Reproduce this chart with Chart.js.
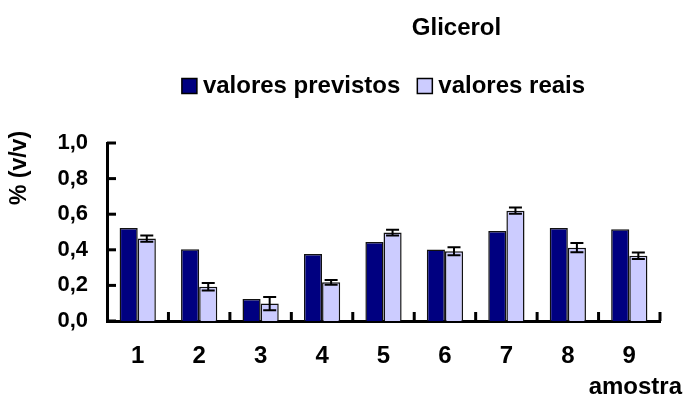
<!DOCTYPE html>
<html>
<head>
<meta charset="utf-8">
<script src="https://cdn.jsdelivr.net/npm/chart.js@4.4.1/dist/chart.umd.min.js"></script>
<style>
  html, body { margin: 0; padding: 0; background: #fff; }
</style>
</head>
<body>
<canvas id="grafica" width="685" height="406"></canvas>
<script>
// dados
const amostras = ['1', '2', '3', '4', '5', '6', '7', '8', '9'];
const previstos = [0.522, 0.403, 0.124, 0.377, 0.444, 0.401, 0.506, 0.522, 0.515];
const reais = [0.463, 0.193, 0.098, 0.217, 0.497, 0.392, 0.620, 0.412, 0.367];
const errosReais = [0.018, 0.021, 0.037, 0.014, 0.016, 0.022, 0.018, 0.026, 0.018];
const ticksY = [0, 0.2, 0.4, 0.6, 0.8, 1.0];

const titulo = 'Glicerol';
const tituloY = '% (v/v)';
const tituloX = 'amostra';

const fonte = "'Liberation Sans', Arial, sans-serif";

const extras = {
  id: 'extras',
  afterDatasetsDraw(chart) {
    const c = chart.ctx;
    const area = chart.chartArea;
    const ys = chart.scales.y;
    const xs = chart.scales.x;
    c.save();
    c.strokeStyle = '#000';
    c.lineWidth = 2;

    // barras de erro (valores reais)
    const meta = chart.getDatasetMeta(1);
    meta.data.forEach((bar, i) => {
      const yTop = ys.getPixelForValue(reais[i] + errosReais[i]);
      const yBot = ys.getPixelForValue(reais[i] - errosReais[i]);
      c.beginPath();
      c.moveTo(bar.x, yTop); c.lineTo(bar.x, yBot);
      c.moveTo(bar.x - 6.5, yTop); c.lineTo(bar.x + 6.5, yTop);
      c.moveTo(bar.x - 6.5, yBot); c.lineTo(bar.x + 6.5, yBot);
      c.stroke();
    });

    // marcas internas nos eixos
    c.lineWidth = 3;
    ticksY.forEach(v => {
      const y = ys.getPixelForValue(v);
      c.beginPath();
      c.moveTo(area.left, y); c.lineTo(area.left + 9, y);
      c.stroke();
    });
    for (let i = 0; i < amostras.length; i++) {
      const x = xs.getPixelForValue(i + 0.5);
      c.beginPath();
      c.moveTo(x, area.bottom); c.lineTo(x, area.bottom - 9);
      c.stroke();
    }

    // textos
    c.fillStyle = '#000';
    c.font = 'bold 24px ' + fonte;
    c.textBaseline = 'middle';
    c.textAlign = 'center';
    c.fillText(titulo, area.left + area.width * 0.632, 28);

    c.textAlign = 'right';
    c.fillText(tituloX, area.right + 22, 387);

    c.save();
    c.font = 'bold 23px ' + fonte;
    c.translate(20, 168);
    c.rotate(-Math.PI / 2);
    c.textAlign = 'center';
    c.fillText(tituloY, 0, 0);
    c.restore();

    // legenda
    const ds = chart.data.datasets;
    const box = 15, gap = 6, entre = 17;
    const larguras = ds.map(d => c.measureText(d.label).width);
    const total = ds.length * (box + gap) + larguras.reduce((a, b) => a + b, 0) + entre * (ds.length - 1);
    let x = (area.left + area.right) / 2 - total / 2;
    const yLeg = 86;
    c.textAlign = 'left';
    c.lineWidth = 1.5;
    ds.forEach((d, i) => {
      c.fillStyle = d.backgroundColor;
      c.fillRect(x, yLeg - box / 2, box, box);
      c.strokeStyle = '#000';
      c.strokeRect(x, yLeg - box / 2, box, box);
      c.fillStyle = '#000';
      c.fillText(d.label, x + box + gap, yLeg);
      x += box + gap + larguras[i] + entre;
    });
    c.restore();
  }
};

new Chart(document.getElementById('grafica'), {
  type: 'bar',
  data: {
    labels: amostras,
    datasets: [
      {
        label: 'valores previstos',
        data: previstos,
        backgroundColor: '#000080',
        borderColor: '#111',
        borderWidth: 1.5
      },
      {
        label: 'valores reais',
        data: reais,
        backgroundColor: '#CCCCFF',
        borderColor: '#111',
        borderWidth: 1.5
      }
    ]
  },
  options: {
    responsive: false,
    animation: false,
    events: [],
    layout: { padding: { top: 143, right: 25, left: 0, bottom: 0 } },
    datasets: { bar: { categoryPercentage: 0.59, barPercentage: 1.0 } },
    plugins: {
      legend: { display: false },
      title: { display: false },
      tooltip: { enabled: false }
    },
    scales: {
      x: {
        grid: { display: false, drawTicks: false },
        border: { color: '#000', width: 3 },
        ticks: { color: '#000', font: { family: fonte, size: 24, weight: 'bold' }, padding: 21 },
        afterFit(s) { s.height = 85; }
      },
      y: {
        min: 0,
        max: 1,
        grid: { display: false, drawTicks: false },
        border: { color: '#000', width: 3 },
        ticks: {
          stepSize: 0.2,
          color: '#000',
          padding: 19,
          font: { family: fonte, size: 22, weight: 'bold' },
          callback: v => v.toFixed(1).replace('.', ',')
        },
        afterFit(s) { s.width = 107; }
      }
    }
  },
  plugins: [extras]
});
</script>
</body>
</html>
